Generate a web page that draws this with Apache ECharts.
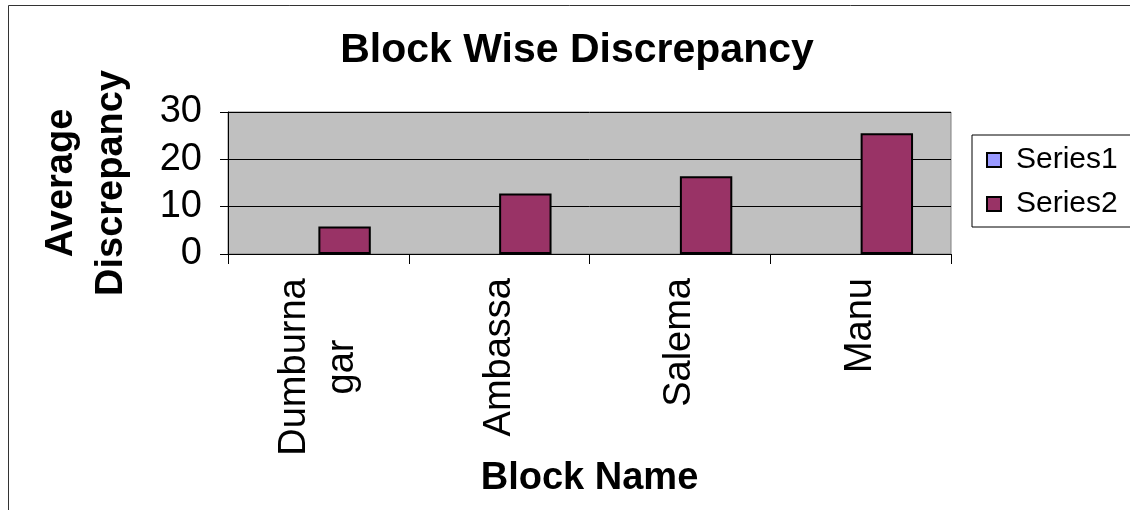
<!DOCTYPE html>
<html><head><meta charset="utf-8">
<script src="https://cdn.jsdelivr.net/npm/echarts@6/dist/echarts.min.js"></script>
<style>html,body{margin:0;padding:0;background:#fff}#c{width:1130px;height:510px}</style>
</head><body><div id="c"></div>
<script>
const categories = ['Dumburna\ngar', 'Ambassa', 'Salema', 'Manu'];
const series1 = [null, null, null, null];
const series2 = [5.8, 12.8, 16.4, 25.5];
const yTicks = [0, 10, 20, 30];

const chart = echarts.init(document.getElementById('c'));
const font = 'Liberation Sans, Arial, sans-serif';
chart.setOption({
  animation: false,
  backgroundColor: '#fff',
  title: {
    text: 'Block Wise Discrepancy', left: 572, top: 25, textAlign: 'center',
    textStyle: {fontFamily: font, fontSize: 41, fontWeight: 'bold', color: '#000'}
  },
  legend: {
    orient: 'vertical', left: 972, top: 135,
    icon: 'rect',
    itemWidth: 14, itemHeight: 14, itemGap: 14,
    padding: [10, 40, 8, 14],
    borderColor: '#000', borderWidth: 1,
    textStyle: {fontFamily: font, fontSize: 30, color: '#000', padding: [0, 0, 0, 10]},
    data: ['Series1', 'Series2']
  },
  grid: {
    left: 228, right: 179, top: 112, bottom: 256,
    show: true, backgroundColor: '#C0C0C0', borderColor: '#808080', borderWidth: 1
  },
  xAxis: {
    type: 'category', data: categories,
    name: 'Block Name', nameLocation: 'middle', nameGap: 203,
    nameTextStyle: {fontFamily: font, fontSize: 38, fontWeight: 'bold', color: '#000'},
    axisLine: {lineStyle: {color: '#000', width: 1}},
    axisTick: {show: true, length: 10, lineStyle: {color: '#000'}},
    axisLabel: {
      rotate: 90, margin: 24, fontFamily: font, fontSize: 38, color: '#000', lineHeight: 48, align: 'right',
      formatter: v => v.includes('\n') ? v.split('\n').map(s => '{w|' + s + '}').join('\n') : v,
      rich: {w: {width: 178, align: 'center', fontFamily: font, fontSize: 38, lineHeight: 48, color: '#000'}}
    }
  },
  yAxis: {
    type: 'value', min: 0, max: 30, interval: 10,
    name: 'Average\nDiscrepancy', nameLocation: 'middle', nameGap: 91, nameRotate: 90,
    nameTextStyle: {fontFamily: font, fontSize: 38, fontWeight: 'bold', color: '#000', lineHeight: 50},
    axisLine: {show: true, lineStyle: {color: '#000', width: 1}},
    axisTick: {show: true, length: 8, lineStyle: {color: '#000'}},
    axisLabel: {margin: 26, fontFamily: font, fontSize: 38, color: '#000',
      formatter: v => yTicks.includes(v) ? String(v) : ''},
    splitLine: {show: true, lineStyle: {color: '#000', width: 1}}
  },
  series: [
    {name: 'Series1', type: 'bar', data: series1, barGap: '0%', barCategoryGap: '42%',
     itemStyle: {color: '#9999FF', borderColor: '#000', borderWidth: 1}},
    {name: 'Series2', type: 'bar', data: series2, barGap: '0%', barCategoryGap: '42%',
     itemStyle: {color: '#993366', borderColor: '#000', borderWidth: 2}}
  ],
  graphic: [{
    type: 'rect', shape: {x: 8.5, y: 5.5, width: 1200, height: 600},
    style: {fill: null, stroke: '#333', lineWidth: 1}, silent: true
  }]
});
</script></body></html>
